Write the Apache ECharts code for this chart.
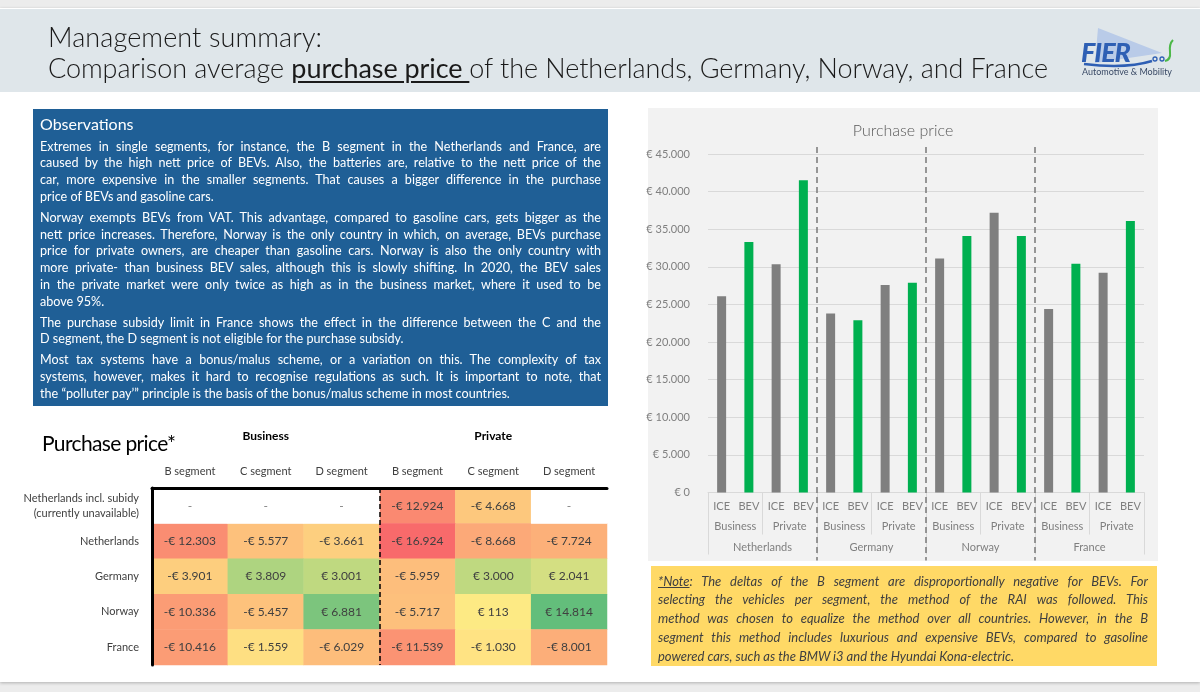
<!DOCTYPE html>
<html><head><meta charset="utf-8">
<script src="https://cdn.jsdelivr.net/npm/echarts@6/dist/echarts.min.js"></script>
<style>
html,body{margin:0;padding:0;}
body{width:1200px;height:692px;background:#ececec;position:relative;overflow:hidden;font-family:Lato,'Open Sans','DejaVu Sans',sans-serif;}
.abs{position:absolute;}
#slide{left:0;top:8px;width:1200px;height:674px;background:#fff;box-shadow:0 1px 3px rgba(0,0,0,.25);z-index:0;}
#header{left:0;top:9px;width:1200px;height:83px;background:#dfe6ea;z-index:0;}
#title{left:48px;top:21px;font-size:27px;line-height:31px;color:#1a1a1a;font-weight:300;z-index:2;white-space:nowrap;}
#title u{font-weight:400;text-decoration-thickness:1.5px;text-underline-offset:3px;}
#obs{left:33px;top:109px;width:575px;height:297px;background:#1f5f96;z-index:0;}
#obsText{left:40px;top:114px;color:#fff;z-index:2;}
#obsText .h{font-size:16px;line-height:20px;margin-bottom:4.6px;}
#obsText .p{margin-bottom:4px;font-size:12.6px;line-height:16.8px;}
.jl{display:block;white-space:nowrap;}
.jl span.in{display:inline-block;white-space:nowrap;}
#panel{left:648px;top:108px;width:510px;height:453px;background:#f2f2f2;z-index:0;}
#ctitle{left:648px;width:510px;top:119px;text-align:center;font-size:16px;line-height:22px;color:#595959;font-weight:300;z-index:2;}
#note{left:651px;top:566px;width:506px;height:100px;background:#ffd966;z-index:0;}
#noteText{left:658px;top:571.6px;font-style:italic;font-synthesis:style weight;font-size:13px;line-height:18.75px;color:#404040;z-index:2;}
#ptitle{left:42px;top:430px;font-size:21px;line-height:26px;color:#000;z-index:2;white-space:nowrap;}
#chart{left:0;top:0;width:1200px;height:692px;z-index:1;}
</style></head>
<body>
<div id="slide" class="abs"></div>
<div id="header" class="abs"></div>
<div id="title" class="abs"><div><span class="fit" data-w="274">Management summary:</span></div><div><span class="fit" data-w="1000">Comparison average <u>purchase price </u>of the Netherlands, Germany, Norway, and France</span></div></div>
<svg class="abs" style="left:1076px;top:24px;z-index:2" width="110" height="56" viewBox="0 0 110 56">
 <polygon points="22,4 86,29 19,39" fill="#b9cbe8"/>
 <text x="5" y="38" font-family="Lato" font-weight="900" font-style="italic" font-size="27" fill="#2e5fb4" letter-spacing="-1">FIER</text>
 <path d="M8,40 Q50,45 76,37" stroke="#2e5fb4" stroke-width="2.5" fill="none"/>
 <circle cx="79" cy="35" r="2" fill="none" stroke="#2e5fb4" stroke-width="1.3"/>
 <circle cx="86" cy="35" r="2" fill="none" stroke="#2e5fb4" stroke-width="1.3"/>
 <path d="M89,37 Q95,36 94,28 Q93,20 97,16" stroke="#4cb848" stroke-width="2" fill="none"/>
 <text x="6" y="51" font-family="Lato" font-size="9" fill="#3a4a66" textLength="90">Automotive &amp; Mobility</text>
</svg>
<div id="obs" class="abs"></div>
<div id="obsText" class="abs">
 <div class="h">Observations</div>
 <div class="p">
  <div class="jl"><span class="in" data-w="561">Extremes in single segments, for instance, the B segment in the Netherlands and France, are</span></div>
  <div class="jl"><span class="in" data-w="561">caused by the high nett price of BEVs. Also, the batteries are, relative to the nett price of the</span></div>
  <div class="jl"><span class="in" data-w="561">car, more expensive in the smaller segments. That causes a bigger difference in the purchase</span></div>
  <div class="jl"><span class="in">price of BEVs and gasoline cars.</span></div>
 </div>
 <div class="p">
  <div class="jl"><span class="in" data-w="561">Norway exempts BEVs from VAT. This advantage, compared to gasoline cars, gets bigger as the</span></div>
  <div class="jl"><span class="in" data-w="561">nett price increases. Therefore, Norway is the only country in which, on average, BEVs purchase</span></div>
  <div class="jl"><span class="in" data-w="561">price for private owners, are cheaper than gasoline cars. Norway is also the only country with</span></div>
  <div class="jl"><span class="in" data-w="561">more private- than business BEV sales, although this is slowly shifting. In 2020, the BEV sales</span></div>
  <div class="jl"><span class="in" data-w="561">in the private market were only twice as high as in the business market, where it used to be</span></div>
  <div class="jl"><span class="in">above 95%.</span></div>
 </div>
 <div class="p">
  <div class="jl"><span class="in" data-w="561">The purchase subsidy limit in France shows the effect in the difference between the C and the</span></div>
  <div class="jl"><span class="in">D segment, the D segment is not eligible for the purchase subsidy.</span></div>
 </div>
 <div class="p">
  <div class="jl"><span class="in" data-w="561">Most tax systems have a bonus/malus scheme, or a variation on this. The complexity of tax</span></div>
  <div class="jl"><span class="in" data-w="561">systems, however, makes it hard to recognise regulations as such. It is important to note, that</span></div>
  <div class="jl"><span class="in">the “polluter pay’” principle is the basis of the bonus/malus scheme in most countries.</span></div>
 </div>
</div>
<div id="ptitle" class="abs"><span class="fit" data-w="134">Purchase price*</span></div>
<div id="panel" class="abs"></div>
<div id="ctitle" class="abs">Purchase price</div>
<div id="note" class="abs"></div>
<div id="noteText" class="abs">
  <div class="jl"><span class="in" data-w="490"><u>*Note</u>: The deltas of the B segment are disproportionally negative for BEVs. For</span></div>
  <div class="jl"><span class="in" data-w="490">selecting the vehicles per segment, the method of the RAI was followed. This</span></div>
  <div class="jl"><span class="in" data-w="490">method was chosen to equalize the method over all countries. However, in the B</span></div>
  <div class="jl"><span class="in" data-w="490">segment this method includes luxurious and expensive BEVs, compared to gasoline</span></div>
  <div class="jl"><span class="in">powered cars, such as the BMW i3 and the Hyundai Kona-electric.</span></div>
</div>
<div id="chart" class="abs"></div>
<script>
// ---------- Bar chart data ----------
const countries = ['Netherlands', 'Germany', 'Norway', 'France'];
const markets = ['Business', 'Private'];
const powertrains = ['ICE', 'BEV'];
// order: NL-Business, NL-Private, DE-Business, DE-Private, NO-Business, NO-Private, FR-Business, FR-Private
const icePrice = [26100, 30350, 23800, 27600, 31100, 37200, 24400, 29200];
const bevPrice = [33300, 41500, 22900, 27900, 34100, 34100, 30400, 36100];
const yMin = 0, yMax = 45000, yStep = 5000;

// ---------- Heat table data ----------
const segments = ['B segment', 'C segment', 'D segment'];
const segmentGroups = ['Business', 'Private'];
const tableRows = ['Netherlands incl. subidy\n(currently unavailable)', 'Netherlands', 'Germany', 'Norway', 'France'];
const tableValues = [
  [null, null, null, -12924, -4668, null],
  [-12303, -5577, -3661, -16924, -8668, -7724],
  [-3901, 3809, 3001, -5959, 3000, 2041],
  [-10336, -5457, 6881, -5717, 113, 14814],
  [-10416, -1559, -6029, -11539, -1030, -8001]
];
const heatColors = ['#f8696b', '#fa8a71', '#fcaa78', '#fdcb7e', '#ffeb84', '#a5d17f', '#63be7b', '#63be7b', '#63be7b'];

function fmtNum(v) { return Math.abs(v).toString().replace(/\B(?=(\d{3})+(?!\d))/g, '.'); }
function euro(v) { return (v < 0 ? '-' : '') + '€ ' + fmtNum(v); }

// derived category lists
const marketCats = [];
countries.forEach(() => markets.forEach(m => marketCats.push(m)));
const ptCats = [];
marketCats.forEach(() => powertrains.forEach(p => ptCats.push(p)));
const iceSeries = [], bevSeries = [];
icePrice.forEach((v, i) => { iceSeries.push(v, '-'); bevSeries.push('-', bevPrice[i]); });
const perCountry = markets.length * powertrains.length;
const boundaries = countries.slice(1).map((c, i) => [(i + 1) * perCountry, 0]);

const segCats = [];
segmentGroups.forEach(() => segments.forEach(s => segCats.push(s)));
const heatData = [], dashData = [];
tableValues.forEach((row, r) => row.forEach((v, c) => {
  if (v === null) dashData.push([c, r, 0]); else heatData.push([c, r, v]);
}));

const gray = '#7f7f7f', light = '#d9d9d9';
const option = {
  animation: false,
  textStyle: { fontFamily: 'Lato' },
  grid: [
    { left: 708, top: 154, width: 436, height: 338.5 },
    { left: 152, top: 488, width: 455, height: 177 }
  ],
  xAxis: [
    { gridIndex: 0, type: 'category', data: ptCats, position: 'bottom',
      axisLine: { lineStyle: { color: light } }, axisTick: { show: false },
      axisLabel: { interval: 0, margin: 8, color: gray, fontSize: 11 } },
    { gridIndex: 0, type: 'category', data: marketCats, position: 'bottom',
      axisLine: { show: false },
      axisTick: { show: true, interval: 0, length: 42, lineStyle: { color: light } },
      axisLabel: { interval: 0, margin: 28, color: gray, fontSize: 11 } },
    { gridIndex: 0, type: 'category', data: countries, position: 'bottom',
      axisLine: { show: false },
      axisTick: { show: true, interval: 0, length: 62, lineStyle: { color: light } },
      axisLabel: { interval: 0, margin: 49, color: gray, fontSize: 11 } },
    { gridIndex: 1, type: 'category', data: segCats, position: 'top', z: 10,
      axisLine: { lineStyle: { color: '#000', width: 3 } }, axisTick: { show: false },
      axisLabel: { interval: 0, margin: 11, color: '#404040', fontSize: 11 },
      splitLine: { show: true, interval: (i) => i % segments.length === 0, showMinLine: false, showMaxLine: false,
        lineStyle: { color: '#000', type: [5, 3], width: 1.5 } } },
    { gridIndex: 1, type: 'category', data: segmentGroups, position: 'top', offset: 35,
      axisLine: { show: false }, axisTick: { show: false },
      axisLabel: { interval: 0, margin: 11, color: '#000', fontSize: 12, fontWeight: 'bold' } }
  ],
  yAxis: [
    { gridIndex: 0, type: 'value', min: yMin, max: yMax, interval: yStep, position: 'left',
      axisLine: { show: false }, axisTick: { show: false },
      axisLabel: { formatter: (v) => euro(v), color: gray, fontSize: 11, margin: 18 },
      splitLine: { lineStyle: { color: light } } },
    { gridIndex: 1, type: 'category', data: tableRows, inverse: true, z: 10, position: 'left',
      axisLine: { lineStyle: { color: '#000', width: 3 } }, axisTick: { show: false },
      axisLabel: { interval: 0, margin: 13, color: '#404040', fontSize: 11, lineHeight: 15 } }
  ],
  visualMap: [
    { type: 'continuous', show: false, seriesIndex: 3, min: -17000, max: 17000, inRange: { color: heatColors } },
    { type: 'continuous', show: false, seriesIndex: 4, min: 0, max: 1, inRange: { color: ['#ffffff', '#ffffff'] } }
  ],
  series: [
    { name: 'ICE', type: 'bar', xAxisIndex: 0, yAxisIndex: 0, data: iceSeries, barWidth: 9, barGap: '-100%',
      itemStyle: { color: '#7f7f7f' } },
    { name: 'BEV', type: 'bar', xAxisIndex: 0, yAxisIndex: 0, data: bevSeries, barWidth: 9, barGap: '-100%',
      itemStyle: { color: '#00b050' } },
    { type: 'custom', xAxisIndex: 0, yAxisIndex: 0, clip: false, silent: true, z: 5, data: boundaries,
      renderItem: (params, api) => {
        const band = api.size([1, 0])[0];
        const x = api.coord([api.value(0), 0])[0] - band / 2;
        const yTop = api.coord([0, yMax])[1] - 7;
        const yBot = api.coord([0, yMin])[1] + 68;
        return { type: 'line', shape: { x1: x, y1: yTop, x2: x, y2: yBot },
          style: { stroke: '#7f7f7f', lineWidth: 1.6, lineDash: [6, 4] } };
      } },
    { type: 'heatmap', xAxisIndex: 3, yAxisIndex: 1, data: heatData,
      label: { show: true, formatter: (p) => euro(p.value[2]), color: '#404040', fontSize: 12 } },
    { type: 'heatmap', xAxisIndex: 3, yAxisIndex: 1, data: dashData,
      label: { show: true, formatter: '-', color: '#7f7f7f', fontSize: 12 } }
  ]
};

function layoutText() {
  document.querySelectorAll('.fit').forEach(el => {
    el.style.letterSpacing = '0px';
    el.style.display = 'inline-block';
    const w = el.getBoundingClientRect().width;
    const n = el.textContent.length - 1;
    el.style.letterSpacing = ((+el.dataset.w - w) / n) + 'px';
  });
  document.querySelectorAll('.jl span.in[data-w]').forEach(el => {
    el.style.wordSpacing = '0px';
    const w = el.getBoundingClientRect().width;
    const n = (el.textContent.match(/ /g) || []).length;
    if (n) el.style.wordSpacing = ((+el.dataset.w - w) / n) + 'px';
  });
}
layoutText();
if (document.fonts && document.fonts.ready) document.fonts.ready.then(layoutText);

const chart = echarts.init(document.getElementById('chart'), null, { renderer: 'canvas' });
chart.setOption(option);
</script>
</body></html>
